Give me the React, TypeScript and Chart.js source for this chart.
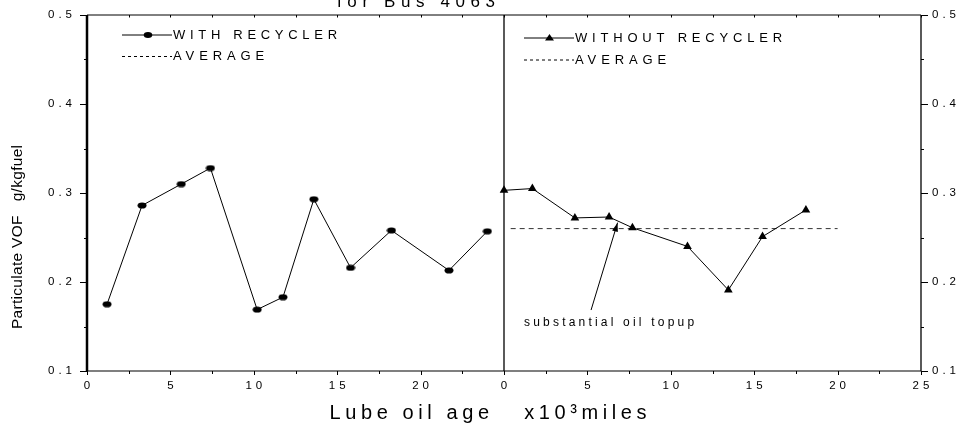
import React, { useEffect, useRef } from 'react';
import { Chart, registerables } from 'chart.js';
Chart.register(...registerables);

// ---- data ----
const withX = [1.2, 3.3, 5.65, 7.4, 10.2, 11.75, 13.6, 15.8, 18.25, 21.7, 24.0];
const withY = [0.175, 0.286, 0.31, 0.328, 0.169, 0.183, 0.293, 0.216, 0.258, 0.213, 0.257];
const withoutX = [0, 1.7, 4.25, 6.3, 7.7, 11.0, 13.45, 15.5, 18.1];
const withoutY = [0.303, 0.305, 0.272, 0.273, 0.261, 0.24, 0.191, 0.251, 0.281];
const averageX = [0.4, 20];
const averageY = [0.26, 0.26];
const xTicksLeft = [0, 5, 10, 15, 20];
const xTicksRight = [0, 5, 10, 15, 20, 25];
const yTicks = [0.1, 0.2, 0.3, 0.4, 0.5];
const arrowFrom = { x: 5.22, y: 0.1685 };
const arrowTo = { x: 6.81, y: 0.2667 };
const noteAt = { x: 1.2, y: 0.154 };

const TITLE = 'for Bus 4063';
const X_TITLE = 'Lube oil age   x10\u00B3miles';
const Y_TITLE = 'Particulate VOF   g/kgfuel';
const LEG_WITH = 'WITH RECYCLER';
const LEG_WITHOUT = 'WITHOUT RECYCLER';
const LEG_AVG = 'AVERAGE';
const NOTE = 'substantial oil topup';

const FONT = '"Liberation Sans", Arial, sans-serif';

function txt(ctx: CanvasRenderingContext2D, s: string, x: number, y: number, size: number, ls: number, align: CanvasTextAlign, base: CanvasTextBaseline = 'middle') {
  ctx.save();
  ctx.font = `${size}px ${FONT}`;
  (ctx as any).letterSpacing = `${ls}px`;
  ctx.textAlign = align;
  ctx.textBaseline = base;
  ctx.fillStyle = '#000';
  let dx = 0;
  if (align === 'center') dx = ls / 2;
  if (align === 'right') dx = ls;
  ctx.fillText(s, x + dx, y);
  ctx.restore();
}

function seg(ctx: CanvasRenderingContext2D, x1: number, y1: number, x2: number, y2: number, w: number, dash: number[] = []) {
  ctx.save();
  ctx.lineWidth = w;
  ctx.strokeStyle = '#000';
  ctx.setLineDash(dash);
  ctx.beginPath();
  ctx.moveTo(x1, y1);
  ctx.lineTo(x2, y2);
  ctx.stroke();
  ctx.restore();
}

const framePlugin = {
  id: 'frame',
  beforeDatasetsDraw(chart: any) {
    const { ctx, chartArea: ca } = chart;
    const xs = chart.scales.x, x2 = chart.scales.x2, ys = chart.scales.y;
    seg(ctx, ca.left, ca.bottom, ca.right, ca.bottom, 1.2);
    seg(ctx, ca.left, ca.top, ca.right, ca.top, 1);
    seg(ctx, ca.left, ca.top, ca.left, ca.bottom, 2.5);
    seg(ctx, ca.right, ca.top, ca.right, ca.bottom, 1.3);
    const dv = x2.getPixelForValue(0);
    seg(ctx, dv, ca.top, dv, ca.bottom, 1.3);
    for (let v = 0; v <= 50.001; v += 2.5) {
      const px = Math.round(xs.getPixelForValue(v)) + 0.5;
      const major = Math.abs(v % 5) < 0.01;
      seg(ctx, px, ca.bottom, px, ca.bottom + (major ? 4 : 3), 1);
      seg(ctx, px, ca.top, px, ca.top + 2.5, 1);
    }
    for (let k = 0; k <= 8; k++) {
      const v = 0.1 + k * 0.05;
      const py = Math.round(ys.getPixelForValue(v)) + 0.5;
      const major = k % 2 === 0;
      seg(ctx, ca.left - (major ? 7 : 3), py, ca.left, py, 1);
      seg(ctx, ca.right, py, ca.right + (major ? 7 : 3), py, 1);
    }
  },
  afterDraw(chart: any) {
    const { ctx, chartArea: ca } = chart;
    const xs = chart.scales.x, x2 = chart.scales.x2, ys = chart.scales.y;
    // x tick labels
    xTicksLeft.forEach((v) => txt(ctx, String(v), xs.getPixelForValue(v), ca.bottom + 15, 11.5, 4, 'center'));
    xTicksRight.forEach((v) => txt(ctx, String(v), x2.getPixelForValue(v), ca.bottom + 15, 11.5, 4, 'center'));
    // y tick labels
    yTicks.forEach((v) => {
      const py = ys.getPixelForValue(v);
      txt(ctx, v.toFixed(1), ca.left - 15, py, 11.5, 4, 'right');
      txt(ctx, v.toFixed(1), ca.right + 11, py, 11.5, 4, 'left');
    });
    // titles
    txt(ctx, TITLE, 416, 6.5, 17, 5.6, 'center', 'alphabetic');
    txt(ctx, X_TITLE, 488, 419, 20, 4.6, 'center', 'alphabetic');
    ctx.save();
    ctx.translate(22, 237);
    ctx.rotate(-Math.PI / 2);
    txt(ctx, Y_TITLE, 0, 0, 15.5, 0.3, 'center', 'alphabetic');
    ctx.restore();
    // legends
    const lx = ca.left + 35, ly = ca.top + 20;
    seg(ctx, lx, ly, lx + 50, ly, 1);
    ctx.save();
    ctx.fillStyle = '#000';
    ctx.beginPath();
    ctx.ellipse(lx + 26, ly, 4.3, 3, 0, 0, Math.PI * 2);
    ctx.fill();
    ctx.restore();
    txt(ctx, LEG_WITH, lx + 51, ly, 13, 4.7, 'left');
    seg(ctx, lx, ly + 21.5, lx + 50, ly + 21.5, 1, [3, 3]);
    txt(ctx, LEG_AVG, lx + 51, ly + 21.5, 13, 4.9, 'left');

    const dv = x2.getPixelForValue(0);
    const rx = dv + 20, ry = ca.top + 23;
    seg(ctx, rx, ry, rx + 50, ry, 1);
    ctx.save();
    ctx.fillStyle = '#000';
    ctx.beginPath();
    ctx.moveTo(rx + 25.5, ry - 4);
    ctx.lineTo(rx + 30, ry + 2.5);
    ctx.lineTo(rx + 21, ry + 2.5);
    ctx.closePath();
    ctx.fill();
    ctx.restore();
    txt(ctx, LEG_WITHOUT, rx + 51, ry, 13, 4.8, 'left');
    seg(ctx, rx, ry + 22, rx + 50, ry + 22, 1, [3, 3]);
    txt(ctx, LEG_AVG, rx + 51, ry + 22, 13, 4.9, 'left');

    // annotation arrow
    const ax1 = x2.getPixelForValue(arrowFrom.x), ay1 = ys.getPixelForValue(arrowFrom.y);
    const ax2 = x2.getPixelForValue(arrowTo.x), ay2 = ys.getPixelForValue(arrowTo.y);
    seg(ctx, ax1, ay1, ax2, ay2, 1);
    const ang = Math.atan2(ay2 - ay1, ax2 - ax1);
    ctx.save();
    ctx.fillStyle = '#000';
    ctx.translate(ax2, ay2);
    ctx.rotate(ang);
    ctx.beginPath();
    ctx.moveTo(0, 0);
    ctx.lineTo(-9, -3);
    ctx.lineTo(-9, 3);
    ctx.closePath();
    ctx.fill();
    ctx.restore();
    txt(ctx, NOTE, x2.getPixelForValue(noteAt.x), ys.getPixelForValue(noteAt.y), 12, 3.2, 'left');
  },
};

export default function App() {
  const ref = useRef<HTMLCanvasElement | null>(null);
  useEffect(() => {
    if (!ref.current) return;
    const dot = document.createElement('canvas');
    dot.width = 10;
    dot.height = 7;
    const g = dot.getContext('2d')!;
    g.fillStyle = '#000';
    g.beginPath();
    g.ellipse(5, 3.5, 4.5, 3.1, 0, 0, Math.PI * 2);
    g.fill();

    const chart = new Chart(ref.current, {
      type: 'scatter',
      data: {
        datasets: [
          {
            label: LEG_WITH,
            data: withX.map((x, i) => ({ x, y: withY[i] })),
            xAxisID: 'x',
            showLine: true,
            borderColor: '#000',
            borderWidth: 1,
            pointStyle: dot as any,
            pointRadius: 4,
            backgroundColor: '#000',
          },
          {
            label: LEG_WITHOUT,
            data: withoutX.map((x, i) => ({ x, y: withoutY[i] })),
            xAxisID: 'x2',
            showLine: true,
            borderColor: '#000',
            borderWidth: 1,
            pointStyle: 'triangle',
            pointRadius: 5,
            backgroundColor: '#000',
            pointBorderWidth: 0,
          },
          {
            label: LEG_AVG,
            data: averageX.map((x, i) => ({ x, y: averageY[i] })),
            xAxisID: 'x2',
            showLine: true,
            borderColor: '#333',
            borderWidth: 1,
            borderDash: [5, 4],
            pointRadius: 0,
          },
        ],
      },
      options: {
        animation: false,
        responsive: false,
        devicePixelRatio: 1,
        layout: { padding: { left: 87, right: 42, top: 15, bottom: 59 } },
        plugins: { legend: { display: false }, tooltip: { enabled: false } },
        scales: {
          x: { type: 'linear', min: 0, max: 50, display: false },
          x2: { type: 'linear', min: -25, max: 25, display: false },
          y: { type: 'linear', min: 0.1, max: 0.5, display: false },
        },
      },
      plugins: [framePlugin],
    });
    return () => chart.destroy();
  }, []);
  return (
    <div style={{ position: 'absolute', left: 0, top: 0, width: 963, height: 430, background: '#fff' }}>
      <canvas ref={ref} width={963} height={430} />
    </div>
  );
}
